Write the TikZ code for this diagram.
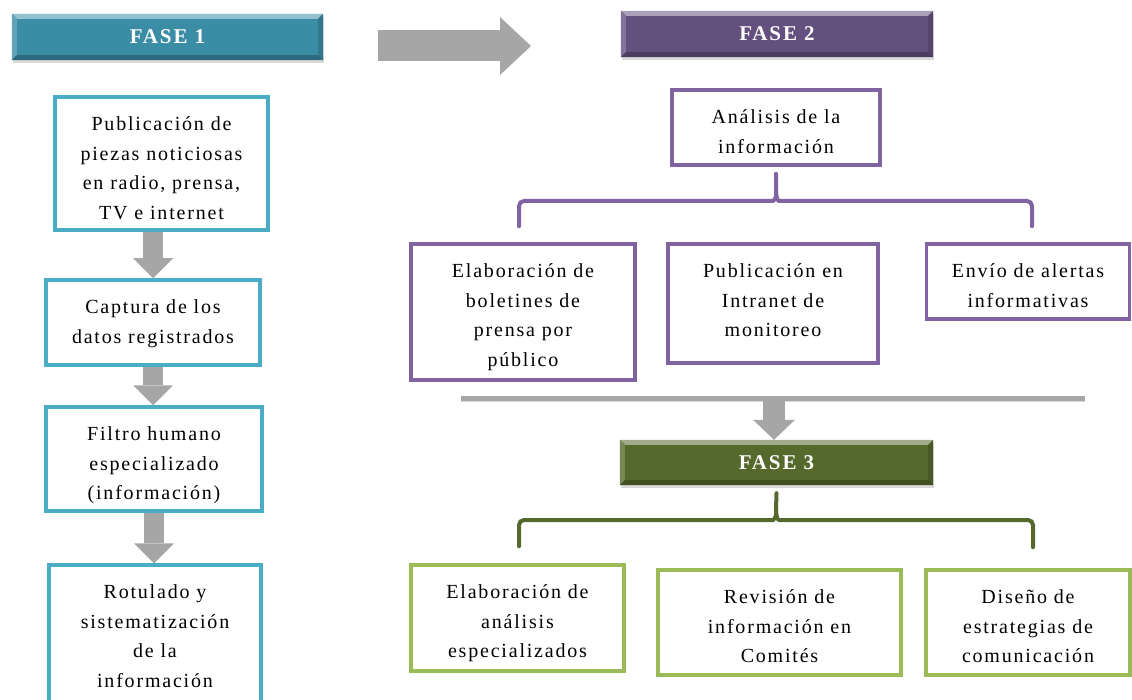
\documentclass[tikz,border=0pt]{standalone}
\usepackage{fontspec}
\setmainfont[LetterSpace=9]{Liberation Serif}
\usetikzlibrary{arrows.meta,shadows,backgrounds,calc}
\definecolor{tealhead}{HTML}{3A8DA5}
\definecolor{tealline}{HTML}{4BACC6}
\definecolor{purphead}{HTML}{64507E}
\definecolor{purpline}{HTML}{8064A2}
\definecolor{greenhead}{HTML}{56692C}
\definecolor{greenline}{HTML}{9BBB59}
\definecolor{arrowgray}{HTML}{A6A6A6}
\tikzset{
  txt/.style={font=\fontsize{20}{29.5}\selectfont, align=center, inner sep=0pt},
  stepbox/.style={draw=#1, line width=3.5pt, fill=white, inner sep=0pt,
    drop shadow={shadow xshift=1.5pt, shadow yshift=-1.5pt, opacity=0.2}},
  header/.style={fill=#1, inner sep=0pt,
    drop shadow={shadow xshift=1pt, shadow yshift=-3pt, opacity=0.3}},
  headtext/.style={text=white, font=\fontsize{21}{24}\selectfont\bfseries},
  downarrow/.style={draw=arrowgray, line width=20pt,
    -{Triangle[width=40pt,length=20pt,line width=0pt]}},
  bigarrow/.style={draw=arrowgray, line width=31pt,
    -{Triangle[width=58pt,length=31pt,line width=0pt]}},
  bracket/.style={draw=#1, line width=4pt, rounded corners=5pt, line cap=round}
}
\newcommand\bevelbox[2]{%
  \fill[#2!55!white] (#1.north west) -- (#1.north east) -- ([xshift=-5pt,yshift=-5pt]#1.north east) -- ([xshift=5pt,yshift=-5pt]#1.north west) -- cycle;
  \fill[#2!80!white] (#1.north west) -- (#1.south west) -- ([xshift=5pt,yshift=5pt]#1.south west) -- ([xshift=5pt,yshift=-5pt]#1.north west) -- cycle;
  \fill[#2!85!black] (#1.north east) -- (#1.south east) -- ([xshift=-5pt,yshift=5pt]#1.south east) -- ([xshift=-5pt,yshift=-5pt]#1.north east) -- cycle;
  \fill[#2!75!black] (#1.south west) -- (#1.south east) -- ([xshift=-5pt,yshift=5pt]#1.south east) -- ([xshift=5pt,yshift=5pt]#1.south west) -- cycle;
}
% #1 name, #2 colour, #3 x, #4 y, #5 width, #6 height, #7 text
\newcommand\stepnode[7]{%
  \node[stepbox=#2, minimum width=#5pt, minimum height=#6pt] (#1) at (#3,#4) {};
  \node[txt, anchor=north] (#1-t) at ([yshift=-21.5pt]#1.north) {#7};
}
\newcommand\headnode[6]{%
  \node[header=#2, minimum width=#5pt, minimum height=#6pt] (#1) at (#3,#4) {};
  \bevelbox{#1}{#2}%
}
\begin{document}
\begin{tikzpicture}[x=1pt,y=-1pt]
\path[use as bounding box] (0,0) rectangle (1132,700);
\clip (0,0) rectangle (1132,700);

% headers
\headnode{f1}{tealhead}{167.5}{37}{311}{46}
\node[headtext] (f1-t) at (f1) {FASE 1};
\headnode{f2}{purphead}{777}{34}{312}{46}
\node[headtext] (f2-t) at (f2) {FASE 2};
\headnode{f3}{greenhead}{776.5}{462.5}{313}{45}
\node[headtext] (f3-t) at (f3) {FASE 3};

% phase 1 column
\stepnode{b1}{tealline}{161.5}{163.5}{213}{133}
  {Publicación de\\piezas noticiosas\\en radio, prensa,\\TV e internet}
\stepnode{b2}{tealline}{153}{322.5}{214}{85}
  {Captura de los\\datos registrados}
\stepnode{b3}{tealline}{154}{459}{216}{104}
  {Filtro humano\\especializado\\(información)}
\stepnode{b4}{tealline}{155}{640}{212}{150}
  {Rotulado y\\sistematización\\de la\\información}

% phase 2
\stepnode{an}{purpline}{776}{127.5}{208}{75}
  {Análisis de la\\información}
\stepnode{pa}{purpline}{523}{312}{224}{136}
  {Elaboración de\\boletines de\\prensa por\\público}
\stepnode{pb}{purpline}{773}{303.5}{210}{119}
  {Publicación en\\Intranet de\\monitoreo}
\stepnode{pc}{purpline}{1028}{281.5}{203}{75}
  {Envío de alertas\\informativas}

% phase 3
\stepnode{ga}{greenline}{517.5}{618}{213}{106}
  {Elaboración de\\análisis\\especializados}
\stepnode{gb}{greenline}{779.5}{622.5}{243}{105}
  {Revisión de\\información en\\Comités}
\stepnode{gc}{greenline}{1028}{622.5}{204}{105}
  {Diseño de\\estrategias de\\comunicación}

% connector coordinates
\coordinate (a1) at (153,0);
\coordinate (a3) at (154,0);
\coordinate (bigS) at (378,46);
\coordinate (bigE) at (531,46);
\coordinate (lineL) at (461,398);
\coordinate (lineR) at (1085,398);
\coordinate (m3) at (774,401);

\begin{scope}[on background layer]
  \draw[downarrow] (b1.south -| a1) -- (b2.north -| a1);
  \draw[downarrow] (b2.south -| a1) -- (b3.north -| a1);
  \draw[downarrow] (b3.south -| a3) -- (b4.north -| a3);
  \draw[bigarrow] (bigS) -- (bigE);
  \draw[arrowgray!85!black, line width=5pt, opacity=0.35] ([yshift=-1.5pt]lineL) -- ([yshift=-1.5pt]lineR);
  \draw[arrowgray, line width=5pt] (lineL) -- (lineR);
  \draw[draw=arrowgray, line width=22pt, -{Triangle[width=42pt,length=20pt,line width=0pt]}] (m3) -- (f3.north -| m3);
\end{scope}

% brackets
\draw[bracket=purpline] (pa.north -| 519,0) ++(0,-16) |- (768,201)
  .. controls (774,201) and (776,198) .. (776,191) -- ([yshift=-7pt]an.south);
\draw[bracket=purpline] (pc.north -| 1032,0) ++(0,-16) |- (784,201)
  .. controls (778,201) and (776,198) .. (776,191);
\draw[bracket=greenhead] (ga.north -| 519,0) ++(0,-17) |- (768,520)
  .. controls (774,520) and (776,517) .. (776,510) -- ([yshift=-8pt]f3.south);
\draw[bracket=greenhead] (gc.north -| 1033,0) ++(0,-21) |- (784,520)
  .. controls (778,520) and (776,517) .. (776,510);
\end{tikzpicture}
\end{document}
